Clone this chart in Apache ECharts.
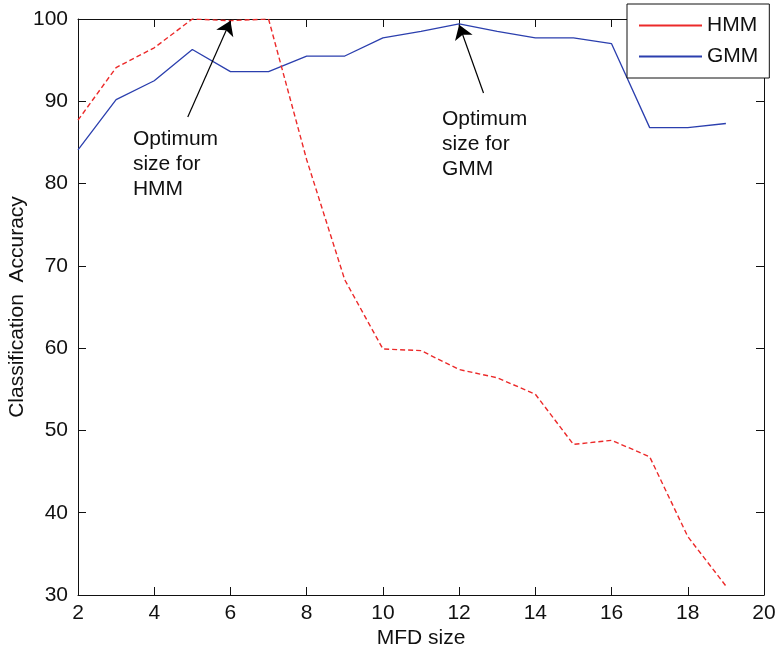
<!DOCTYPE html>
<html>
<head>
<meta charset="utf-8">
<script src="https://cdn.jsdelivr.net/npm/echarts@6/dist/echarts.min.js"></script>
<style>
html, body { margin: 0; padding: 0; background: #fff; }
#chart { width: 775px; height: 655px; }
</style>
</head>
<body>
<div id="chart"></div>
<script>
var mfd_sizes = [2, 3, 4, 5, 6, 7, 8, 9, 10, 11, 12, 13, 14, 15, 16, 17, 18, 19];
var hmm_acc = [87.7, 94.1, 96.5, 100, 99.8, 100, 82.9, 68.3, 59.9, 59.7, 57.4, 56.4, 54.4, 48.3, 48.8, 46.8, 37.1, 31.1];
var gmm_acc = [84.1, 90.2, 92.5, 96.3, 93.6, 93.6, 95.5, 95.5, 97.7, 98.5, 99.4, 98.5, 97.7, 97.7, 97.0, 86.8, 86.8, 87.3];
var x_range = [2, 20, 2];    // min, max, step
var y_range = [30, 100, 10];

// notes: arrow tail -> head, and text block top-left (data coords)
var notes = [
    { text: "Optimum\nsize for\nHMM", from: [4.88, 88.1], to: [6, 99.8], at: [3.44, 86.9] },
    { text: "Optimum\nsize for\nGMM", from: [12.64, 91.0], to: [12, 99.3], at: [11.55, 89.3] }
];

var font = "'Liberation Sans', Arial, Helvetica, sans-serif";

function pairs(xs, ys) {
    return xs.map(function (x, i) { return [x, ys[i]]; });
}

var myChart = echarts.init(document.getElementById("chart"));

var axisLine = { show: true, lineStyle: { color: "#111", width: 1 } };
var tickStyle = { show: true, inside: true, length: 8, lineStyle: { color: "#111", width: 1 } };

var option = {
    animation: false,
    backgroundColor: "#fff",
    grid: { left: 78, right: 11, top: 19, bottom: 60, containLabel: false, outerBoundsMode: "none" },
    legend: {
        data: ["HMM", "GMM"],
        orient: "vertical",
        left: 627,
        top: 4,
        padding: [11, 11, 11, 12],
        itemWidth: 63,
        itemHeight: 2,
        itemGap: 10,
        icon: "rect",
        borderColor: "#111",
        borderWidth: 1,
        backgroundColor: "#fff",
        textStyle: { fontFamily: font, fontSize: 21, color: "#111" }
    },
    xAxis: [{
        type: "value",
        min: x_range[0], max: x_range[1], interval: x_range[2],
        name: "MFD size",
        nameLocation: "middle",
        nameGap: 33,
        nameMoveOverlap: false,
        nameTextStyle: { fontFamily: font, fontSize: 21, color: "#111" },
        axisLine: axisLine,
        axisTick: tickStyle,
        splitLine: { show: false },
        axisLabel: { fontFamily: font, fontSize: 21, color: "#111", margin: 8 }
    }, {
        type: "value", position: "top",
        min: x_range[0], max: x_range[1], interval: x_range[2],
        axisLine: axisLine, axisTick: tickStyle,
        splitLine: { show: false }, axisLabel: { show: false }
    }],
    yAxis: [{
        type: "value",
        min: y_range[0], max: y_range[1], interval: y_range[2],
        name: "Classification  Accuracy",
        nameLocation: "middle",
        nameGap: 50,
        nameMoveOverlap: false,
        nameTextStyle: { fontFamily: font, fontSize: 21, color: "#111" },
        axisLine: axisLine,
        axisTick: tickStyle,
        splitLine: { show: false },
        axisLabel: { fontFamily: font, fontSize: 21, color: "#111", margin: 10 }
    }, {
        type: "value", position: "right",
        min: y_range[0], max: y_range[1], interval: y_range[2],
        axisLine: axisLine, axisTick: tickStyle,
        splitLine: { show: false }, axisLabel: { show: false }
    }],
    series: [{
        name: "HMM",
        type: "line",
        data: pairs(mfd_sizes, hmm_acc),
        showSymbol: false,
        color: "#ec2a2a",
        lineStyle: { width: 1.4, type: [5, 3] },
        z: 3
    }, {
        name: "GMM",
        type: "line",
        data: pairs(mfd_sizes, gmm_acc),
        showSymbol: false,
        color: "#2b3fae",
        lineStyle: { width: 1.3 },
        z: 2
    }, {
        name: "notes",
        type: "line",
        data: [],
        silent: true,
        markLine: {
            silent: true,
            symbol: ["none", "arrow"],
            symbolSize: 14,
            label: { show: false },
            lineStyle: { color: "#000", width: 1.2, type: "solid" },
            itemStyle: { color: "#000" },
            emphasis: { disabled: true },
            data: notes.map(function (n) {
                return [{ coord: n.from }, { coord: n.to }];
            })
        },
        z: 5
    }]
};

myChart.setOption(option);

// annotation texts, placed through the chart's own scales
myChart.setOption({
    graphic: notes.map(function (n) {
        var p = myChart.convertToPixel({ xAxisIndex: 0, yAxisIndex: 0 }, n.at);
        return {
            type: "text",
            x: p[0],
            y: p[1],
            style: {
                text: n.text,
                fontFamily: font,
                fontSize: 21,
                lineHeight: 25,
                fill: "#111",
                verticalAlign: "top",
                align: "left"
            }
        };
    })
});
</script>
</body>
</html>
